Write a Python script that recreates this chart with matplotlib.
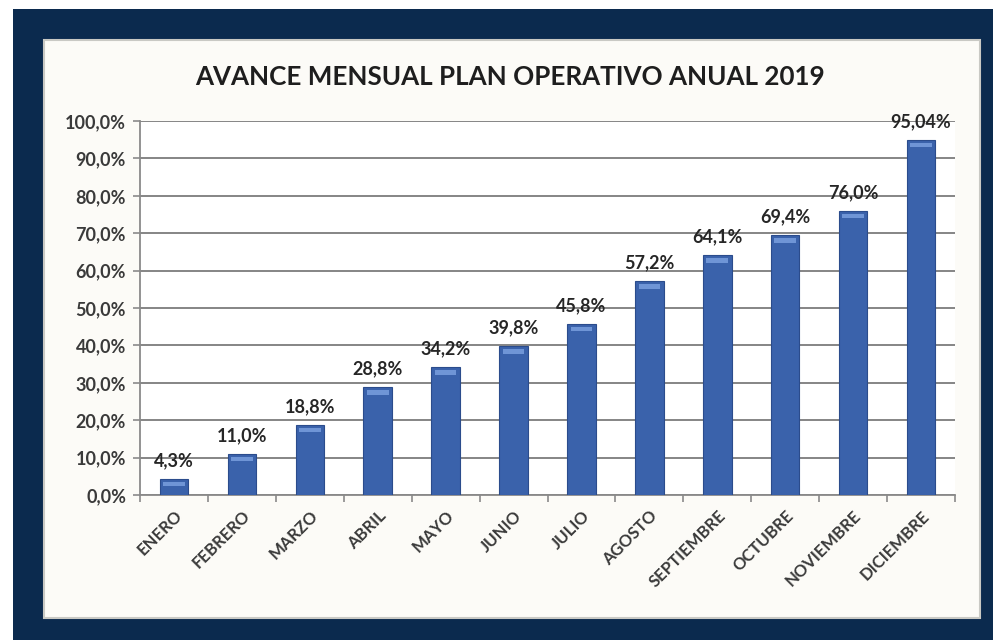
import matplotlib.pyplot as plt
from matplotlib.patches import Rectangle

meses = ["ENERO", "FEBRERO", "MARZO", "ABRIL", "MAYO", "JUNIO", "JULIO",
         "AGOSTO", "SEPTIEMBRE", "OCTUBRE", "NOVIEMBRE", "DICIEMBRE"]
avance = [4.3, 11.0, 18.8, 28.8, 34.2, 39.8, 45.8, 57.2, 64.1, 69.4, 76.0, 95.04]
etiquetas = ["4,3%", "11,0%", "18,8%", "28,8%", "34,2%", "39,8%", "45,8%",
             "57,2%", "64,1%", "69,4%", "76,0%", "95,04%"]
y_ticks = [0, 10, 20, 30, 40, 50, 60, 70, 80, 90, 100]
y_labels = ["0,0%", "10,0%", "20,0%", "30,0%", "40,0%", "50,0%", "60,0%",
            "70,0%", "80,0%", "90,0%", "100,0%"]

plt.rcParams["font.family"] = ["Lato", "DejaVu Sans"]

fig = plt.figure(figsize=(9.93, 6.4), dpi=100)
fig.patch.set_facecolor("white")

# marco azul oscuro y panel claro
fig.patches.append(Rectangle((13 / 993, 0), 1, 1 - 9 / 640, transform=fig.transFigure,
                             facecolor="#0b2a4e", edgecolor="none", zorder=0))
fig.patches.append(Rectangle((44 / 993, 1 - 618 / 640), (980 - 44) / 993, (618 - 40) / 640,
                             transform=fig.transFigure, facecolor="#fcfbf7",
                             edgecolor="#c9c9c4", linewidth=1.5, zorder=1))

ax = fig.add_axes([140 / 993, 1 - 495 / 640, (955 - 140) / 993, (495 - 121) / 640])
ax.set_facecolor("white")
ax.set_zorder(2)

x = range(len(meses))
ax.bar(x, avance, width=0.42, color="#3a62ab", edgecolor="#2b4c8c",
       linewidth=0.8, zorder=3)
# brillo en la parte superior de cada barra
ax.bar(x, [1.2] * len(avance), bottom=[v - 2.0 for v in avance], width=0.32,
       color="#6f95d6", edgecolor="none", zorder=4)

for xi, v, lab in zip(x, avance, etiquetas):
    ax.text(xi, v + 2.6, lab, ha="center", va="bottom", fontsize=13,
            fontweight="bold", color="#262626", zorder=5)

ax.set_xlim(-0.5, len(meses) - 0.5)
ax.set_ylim(0, 100)
ax.set_yticks(y_ticks)
ax.set_yticklabels(y_labels, fontsize=13, fontweight="bold", color="#3a3a3a")
ax.set_xticks(list(x))
ax.set_xticklabels(meses, rotation=45, ha="right", rotation_mode="anchor",
                   fontsize=12, fontweight="bold", color="#3a3a3a")
ax.tick_params(axis="x", length=0, pad=9)
ax.tick_params(axis="y", length=5, color="#8a8a8a", width=1.2, pad=5)

# marcas entre categorias
ax.set_xticks([i - 0.5 for i in range(len(meses) + 1)], minor=True)
ax.tick_params(axis="x", which="minor", length=5, color="#8a8a8a", width=1.2)

ax.grid(axis="y", color="#858585", linewidth=1.4, zorder=1)
ax.set_axisbelow(True)
for side in ["top", "right"]:
    ax.spines[side].set_visible(False)
for side in ["left", "bottom"]:
    ax.spines[side].set_color("#8a8a8a")
    ax.spines[side].set_linewidth(1.3)

fig.text(510 / 993, 1 - 77 / 640, "AVANCE MENSUAL PLAN OPERATIVO ANUAL 2019",
         ha="center", va="center", fontsize=18.7, fontweight="bold", color="#1e1e1e")

fig.savefig("out.png", dpi=100)
